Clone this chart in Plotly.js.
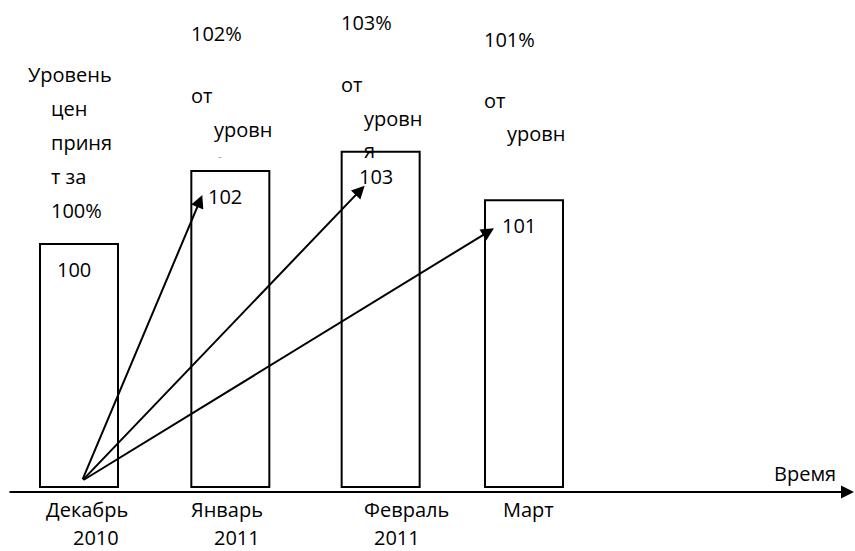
<!DOCTYPE html>
<html>
<head>
<meta charset="utf-8">
<script src="https://cdn.plot.ly/plotly-3.0.1.min.js"></script>
<style>
  html, body { margin: 0; padding: 0; background: #fff; }
  #chart { width: 855px; height: 551px; }
</style>
</head>
<body>
<div id="chart"></div>
<script>
// ---- data ----
const months = ["Декабрь", "Январь", "Февраль", "Март"];
const years = ["2010", "2011", "2011", "2011"];
const priceIndex = [100, 102, 103, 101];            // index values written in the bars
const barHeights = [100, 130, 138, 118];            // schematic bar heights as drawn
const baseLabelLines = ["Уровень", "цен", "приня", "т за", "100%"];
const ofLevelLines = ["от", "уровн"];
const axisLabel = "Время";

// ---- layout geometry (pixels of the 855x551 canvas) ----
const W = 855, H = 551;
const firstBarPx = 79, stepPx = 148.33, baselinePx = 487, pxPerUnitY = 2.43;
const barWidth = 78 / stepPx;
const barShiftPx = [0, 3, 5, 0];                     // hand-drawn spacing irregularity
const barShift = barShiftPx.map(p => p / stepPx);
const FONT = "'Open Sans', 'Noto Sans', sans-serif";

function paperX(px) { return px / W; }
function paperY(py) { return 1 - py / H; }
function txt(text, xp, yp, extra) {
  return Object.assign({
    text: text, xref: 'paper', yref: 'paper', x: paperX(xp), y: paperY(yp),
    xanchor: 'left', yanchor: 'middle', showarrow: false, borderpad: 0,
    font: { family: FONT, size: 20, color: '#000' }
  }, extra || {});
}

const annotations = [];

// left block: base level description
const baseLinePos = [[27, 75], [50, 108], [50, 142], [50, 176], [50, 210]];
baseLabelLines.forEach((t, i) => annotations.push(txt(t, baseLinePos[i][0], baseLinePos[i][1])));

// upper labels for bars 2..4
const pctTop = [null, 34, 23, 39];
const pctLeftPx = [null, 190, 340, 483];
for (let i = 1; i < months.length; i++) {
  const l = pctLeftPx[i], t = pctTop[i];
  annotations.push(txt(priceIndex[i] + "%", l, t));
  annotations.push(txt(ofLevelLines[0], l, t + 61));
  annotations.push(txt(ofLevelLines[1], l + 23, t + 95));
}
annotations.push(txt("я", 363, 150));
annotations.push(txt("-", 217, 156, { font: { family: FONT, size: 11, color: '#999' } }));

// values inside bars
priceIndex.forEach((v, i) => annotations.push({
  text: String(v), xref: 'x', yref: 'y', x: i + barShift[i], y: barHeights[i],
  xanchor: 'center', yanchor: 'middle', xshift: -5, yshift: -25, showarrow: false,
  font: { family: FONT, size: 20, color: '#000' }
}));

// month / year labels
const monthLeft = [45, 190, 363, 502];
const yearLeft = [72, 213, 373, null];
months.forEach((m, i) => {
  annotations.push(txt(m, monthLeft[i], 509));
  if (i < 3) annotations.push(txt(years[i], yearLeft[i], 537));
});

annotations.push(txt(axisLabel, 773, 473));

// arrows from the base bar to the other bars
const tailX = 0.02, tailY = 2.5;
const insetPx = [null, 11, 23, 9];
const dropPx = [null, 24, 34, 28];
for (let i = 1; i < months.length; i++) {
  annotations.push({
    text: '', xref: 'x', yref: 'y', axref: 'x', ayref: 'y',
    x: i + barShift[i] - barWidth / 2 + insetPx[i] / stepPx,
    y: barHeights[i] - dropPx[i] / pxPerUnitY,
    ax: tailX, ay: tailY,
    showarrow: true, arrowhead: 2, arrowsize: 1.3, arrowwidth: 2,
    arrowcolor: '#000', standoff: 0
  });
}

// time axis with arrow
annotations.push({
  text: '', xref: 'paper', yref: 'paper', x: paperX(854), y: paperY(492),
  ax: -(854 - 8), ay: 0, showarrow: true, arrowhead: 2, arrowsize: 1.3,
  arrowwidth: 2, arrowcolor: '#000', standoff: 0
});

const trace = {
  type: 'bar',
  x: months,
  y: barHeights,
  width: barWidth,
  offset: barShift.map(s => s - barWidth / 2),
  marker: { color: '#fff', line: { color: '#000', width: 2 } },
  hoverinfo: 'skip',
  showlegend: false
};

const layout = {
  width: W, height: H,
  margin: { l: 0, r: 0, t: 0, b: 0, pad: 0 },
  paper_bgcolor: '#fff', plot_bgcolor: '#fff',
  font: { family: FONT, size: 20, color: '#000' },
  xaxis: {
    type: 'category', visible: false,
    range: [-firstBarPx / stepPx, (W - firstBarPx) / stepPx]
  },
  yaxis: {
    visible: false,
    range: [-(H - baselinePx) / pxPerUnitY, baselinePx / pxPerUnitY]
  },
  annotations: annotations,
  showlegend: false
};

Plotly.newPlot('chart', [trace], layout, { displayModeBar: false, staticPlot: true });
</script>
</body>
</html>
